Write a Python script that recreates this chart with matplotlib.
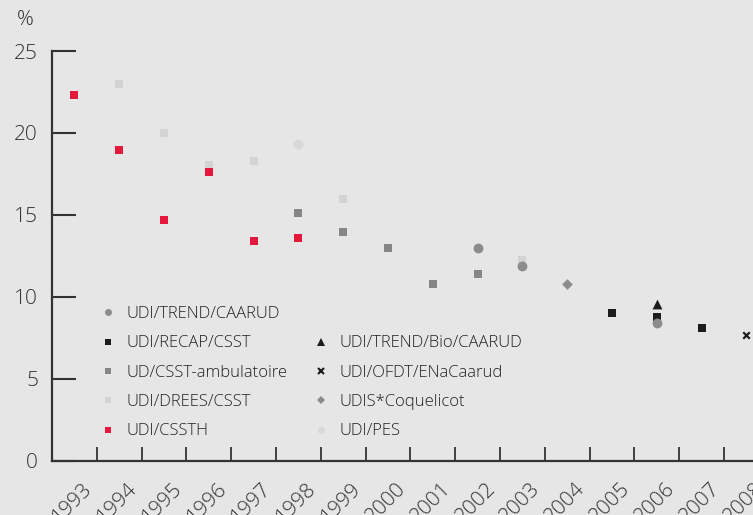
import matplotlib.pyplot as plt
import matplotlib.transforms as mtransforms
from matplotlib.lines import Line2D

plt.rcParams['font.family'] = ['Open Sans', 'DejaVu Sans']
plt.rcParams['font.weight'] = 'light'

years = list(range(1993, 2009))

# series: (years, values)
csst_h_years = [1993, 1994, 1995, 1996, 1997, 1998]
csst_h_vals = [22.3, 18.95, 14.7, 17.6, 13.4, 13.6]

drees_years = [1994, 1995, 1996, 1997, 1999, 2003]
drees_vals = [23.0, 20.0, 18.05, 18.3, 16.0, 12.25]

pes_years = [1998]
pes_vals = [19.3]

ambu_years = [1998, 1999, 2000, 2001, 2002]
ambu_vals = [15.1, 13.95, 13.0, 10.8, 11.4]

trend_years = [2002, 2003, 2006]
trend_vals = [13.0, 11.9, 8.4]

coquelicot_years = [2004]
coquelicot_vals = [10.8]

recap_years = [2005, 2006, 2007]
recap_vals = [9.0, 8.8, 8.1]

bio_years = [2006]
bio_vals = [9.6]

enacaarud_years = [2008]
enacaarud_vals = [7.7]

bg = '#e6e6e6'
red = '#e5173b'
light = '#d3d3d3'
pes_col = '#d8d8d8'
mid = '#858585'
circ = '#8c8c8c'
black = '#1c1c1c'
axcol = '#333333'

fig = plt.figure(figsize=(7.53, 5.15), dpi=100)
fig.patch.set_facecolor(bg)
# axes runs past the right edge, as in the original crop
ax = fig.add_axes([52 / 753, 54 / 515, 721.3 / 753, 410 / 515])
ax.set_facecolor(bg)

ms = 33
ax.scatter(drees_years, drees_vals, marker='s', s=ms, color=light, linewidths=0, zorder=2)
ax.scatter(pes_years, pes_vals, marker='o', s=50, color=pes_col, linewidths=0, zorder=2)
ax.scatter(csst_h_years, csst_h_vals, marker='s', s=ms, color=red, linewidths=0, zorder=3)
ax.scatter(ambu_years, ambu_vals, marker='s', s=ms, color=mid, linewidths=0, zorder=3)
ax.scatter(recap_years, recap_vals, marker='s', s=ms, color=black, linewidths=0, zorder=3)
ax.scatter(trend_years, trend_vals, marker='o', s=50, color=circ, linewidths=0, zorder=4)
ax.scatter(coquelicot_years, coquelicot_vals, marker='D', s=30, color=circ, linewidths=0, zorder=3)
ax.scatter(bio_years, bio_vals, marker='^', s=50, color=black, linewidths=0, zorder=3)
ax.scatter(enacaarud_years, enacaarud_vals, marker='x', s=22, color=black, linewidths=1.6, zorder=3)

ax.set_xlim(1992.5, 2008.6)
ax.set_ylim(0, 25)

for side in ['top', 'right']:
    ax.spines[side].set_visible(False)
for side in ['left', 'bottom']:
    ax.spines[side].set_color(axcol)
    ax.spines[side].set_linewidth(1.6)

ax.set_yticks([0, 5, 10, 15, 20, 25])
ax.tick_params(axis='y', direction='in', length=17, width=1.5, color=axcol,
               labelsize=15, labelcolor='#333333', pad=10)

ax.set_xticks([y + 0.5 for y in years])
ax.set_xticklabels([])
ax.set_xticks(years, minor=True)
ax.set_xticklabels([str(y) for y in years], minor=True, rotation=45, ha='right', va='top')
ax.tick_params(axis='x', which='major', direction='in', length=10, width=1.3, color=axcol)
ax.tick_params(axis='x', which='minor', length=0, labelsize=15, labelcolor='#333333', pad=13)
offset = mtransforms.ScaledTranslation(22 / 100, 0, fig.dpi_scale_trans)
for lab in ax.xaxis.get_minorticklabels():
    lab.set_transform(lab.get_transform() + offset)

fig.text(17 / 753, 1 - 20 / 515, '%', fontsize=15, color='#333333', ha='left', va='center')

def h(marker, color, size=4, **kw):
    return Line2D([], [], linestyle='none', marker=marker, color=color,
                  markersize=size, markeredgewidth=0, **kw)

handles = [
    h('o', circ, 5), h('s', black), h('s', mid), h('s', light), h('s', red),
    Line2D([], [], linestyle='none'),
    h('^', black, 5.5), Line2D([], [], linestyle='none', marker='x', color=black,
                               markersize=4, markeredgewidth=1.5),
    h('D', circ, 4), h('o', pes_col, 5),
]
labels = ['UDI/TREND/CAARUD', 'UDI/RECAP/CSST', 'UD/CSST-ambulatoire', 'UDI/DREES/CSST', 'UDI/CSSTH',
          '', 'UDI/TREND/Bio/CAARUD', 'UDI/OFDT/ENaCaarud', 'UDIS*Coquelicot', 'UDI/PES']
leg = ax.legend(handles, labels, ncol=2, loc='upper left',
                bbox_to_anchor=(0.0666, 0.378), borderpad=0, borderaxespad=0,
                frameon=False, fontsize=12, handlelength=1.0, handletextpad=0.6,
                labelspacing=0.8, columnspacing=1.5, labelcolor='#222222')

fig.savefig('out.png', dpi=100, facecolor=bg)
